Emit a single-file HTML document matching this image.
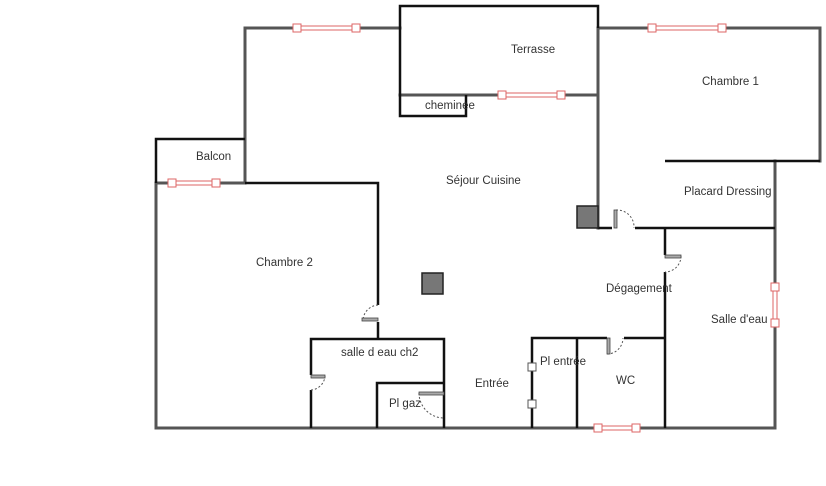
<!DOCTYPE html>
<html><head><meta charset="utf-8"><style>
html,body{margin:0;padding:0;background:#fff;}
svg{display:block;}
text{font-family:"Liberation Sans",sans-serif;font-size:11.5px;fill:#333;}
</style></head><body>
<svg width="826" height="486" viewBox="0 0 826 486" xmlns="http://www.w3.org/2000/svg">
<g stroke="#555" stroke-width="3" fill="none" stroke-linecap="square">
<!-- outer walls gray -->
<polyline points="245,183 245,28 400,28"/>
<polyline points="598,28 820,28 820,161"/>
<line x1="156" y1="183" x2="156" y2="428"/>
<line x1="156" y1="428" x2="775" y2="428"/>
<line x1="775" y1="161" x2="775" y2="428"/>
<line x1="400" y1="95" x2="598" y2="95"/>
<line x1="598" y1="28" x2="598" y2="228"/>
<line x1="156" y1="183" x2="245" y2="183"/>
</g>
<g stroke="#111" stroke-width="2.5" fill="none">
<polyline points="400,95 400,6 598,6 598,28"/>
<polyline points="400,95 400,116 466,116 466,95"/>
<polyline points="156,183 156,139 245,139"/>
<polyline points="245,183 378,183 378,305"/>
<line x1="378" y1="322" x2="378" y2="339"/>
<line x1="665" y1="161" x2="820" y2="161"/>
<line x1="598" y1="228" x2="612" y2="228"/>
<line x1="635" y1="228" x2="775" y2="228"/>
<line x1="665" y1="228" x2="665" y2="255"/>
<line x1="665" y1="272" x2="665" y2="428"/>
<polyline points="311,375 311,339 444,339 444,428"/>
<line x1="311" y1="390" x2="311" y2="428"/>
<polyline points="377,428 377,383 444,383"/>
<polyline points="532,428 532,338 607,338"/>
<line x1="624" y1="338" x2="665" y2="338"/>
<line x1="577" y1="338" x2="577" y2="428"/>
</g>
<!-- gray squares -->
<rect x="577" y="206" width="21" height="22" fill="#777" stroke="#222" stroke-width="1.5"/>
<rect x="422" y="273" width="21" height="21" fill="#777" stroke="#222" stroke-width="1.5"/>
<!-- windows -->
<g stroke="#d66" stroke-width="1" fill="#fff">
<rect x="300" y="26" width="53" height="4"/>
<rect x="505" y="93" width="53" height="4"/>
<rect x="655" y="26" width="64" height="4"/>
<rect x="175" y="181" width="38" height="4"/>
<rect x="600" y="426" width="34" height="4"/>
<rect x="773" y="290" width="4" height="30"/>
<rect x="293" y="24" width="8" height="8"/>
<rect x="352" y="24" width="8" height="8"/>
<rect x="498" y="91" width="8" height="8"/>
<rect x="557" y="91" width="8" height="8"/>
<rect x="648" y="24" width="8" height="8"/>
<rect x="718" y="24" width="8" height="8"/>
<rect x="168" y="179" width="8" height="8"/>
<rect x="212" y="179" width="8" height="8"/>
<rect x="594" y="424" width="8" height="8"/>
<rect x="632" y="424" width="8" height="8"/>
<rect x="771" y="283" width="8" height="8"/>
<rect x="771" y="319" width="8" height="8"/>
</g>
<g stroke="#555" stroke-width="1" fill="#fff">
<rect x="528" y="363" width="8" height="8"/>
<rect x="528" y="400" width="8" height="8"/>
</g>
<!-- doors -->
<g stroke="#555" stroke-width="1" fill="none" stroke-dasharray="2,2">
<path d="M616,210 A17,17 0 0 1 634,228"/>
<path d="M681,256 A16,16 0 0 1 665,272"/>
<path d="M378,305 A16,16 0 0 0 363,320"/>
<path d="M311,390 A15,15 0 0 0 325,376"/>
<path d="M419,393 A25,25 0 0 0 444,418"/>
<path d="M607,354 A16,16 0 0 0 623,338"/>
</g>
<g fill="#aaa" stroke="#444" stroke-width="0.8">
<rect x="614" y="210" width="3" height="18"/>
<rect x="665" y="255" width="16" height="3"/>
<rect x="362" y="318" width="16" height="3"/>
<rect x="311" y="375" width="14" height="3"/>
<rect x="419" y="392" width="25" height="3"/>
<rect x="607" y="338" width="3" height="16"/>
</g>
<text x="511" y="53">Terrasse</text>
<text x="425" y="109">cheminee</text>
<text x="702" y="85">Chambre 1</text>
<text x="196" y="160">Balcon</text>
<text x="446" y="184">Séjour Cuisine</text>
<text x="684" y="195">Placard Dressing</text>
<text x="256" y="266">Chambre 2</text>
<text x="606" y="292">Dégagement</text>
<text x="711" y="323">Salle d'eau</text>
<text x="341" y="356">salle d eau ch2</text>
<text x="540" y="365">Pl entrée</text>
<text x="475" y="387">Entrée</text>
<text x="616" y="384">WC</text>
<text x="389" y="407">Pl gaz</text>
</svg>
</body></html>
